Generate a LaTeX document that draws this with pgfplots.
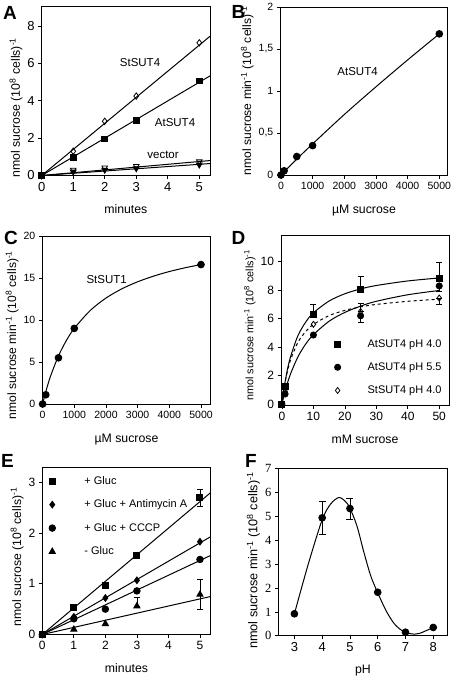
\documentclass[border=0pt]{standalone}
\usepackage{pgfplots}
\pgfplotsset{compat=1.18}
\usepackage{fontspec}
\setmainfont{Liberation Sans}
\newfontfamily\timesf{Liberation Serif}
\newcommand{\fs}[1]{\fontsize{#1}{#1}\selectfont}
\pgfplotsset{
 panel/.style={
  scale only axis, clip=false, anchor=south west,
  axis line style={line width=0.8pt},
  tick align=outside, xtick pos=left, ytick pos=left,
  major tick length=3.5pt,
  every tick/.style={black, line width=0.7pt},
  ticklabel style={font=\fs{12}},
  /pgf/number format/assume math mode=true,
  scaled ticks=false,
  xlabel style={font=\fs{12.3}, at={(axis description cs:0.5,0)}, anchor=base, yshift=-38pt},
  every axis plot/.append style={line width=1pt, black},
 },
 yl/.style 2 args={ylabel style={font=\fs{#2}, at={(ticklabel cs:#1)}, anchor=near ticklabel, inner sep=1.5pt}},
}
\tikzset{lbl/.style={font=\fs{11.5}}}
\newcommand{\ylab}{nmol sucrose (10\textsuperscript{8} cells)\textsuperscript{-1}}
\newcommand{\ylabm}{nmol sucrose min\textsuperscript{-1} (10\textsuperscript{8} cells)\textsuperscript{-1}}
\begin{document}
\begin{tikzpicture}
\useasboundingbox (0,0) rectangle (452pt,-678pt);
% ---------------- A
\begin{axis}[panel, at={(41.7pt,-175.5pt)}, width=168.3pt, height=169.5pt,
  xmin=0, xmax=5.34, ymin=0, ymax=9.07, xtick={0,...,5}, ytick={0,2,4,6,8},
  ticklabel style={font=\fs{13}},
  xlabel={minutes}, ylabel={\ylab}, yl={0.40}{12.3}]
\addplot[no marks] coordinates {(0,0) (5.34,7.45)};
\addplot[no marks] coordinates {(0,0) (5.34,5.33)};
\addplot[no marks] coordinates {(0,0) (5.34,0.80)};
\addplot[no marks] coordinates {(0,0) (5.34,0.64)};
\addplot[only marks, mark=diamond, mark size=3.2pt, mark options={fill=white, line width=0.8pt}] coordinates {(0,0) (1,1.3) (2,2.9) (3,4.25) (5,7.1)};
\addplot[only marks, mark=square*, mark size=2.8pt] coordinates {(0,0) (1,0.95) (2,1.95) (3,2.95) (5,5.05)};
\addplot[only marks, mark=triangle, mark size=3.2pt, mark options={rotate=180, fill=white, line width=0.8pt}] coordinates {(0,0) (1,0.3) (2,0.42) (3,0.5) (5,0.75)};
\addplot[only marks, mark=triangle*, mark size=3.2pt, mark options={rotate=180}] coordinates {(0,0) (1,0.2) (2,0.3) (3,0.38) (5,0.58)};
\node[lbl] at (axis cs:3.12,6.07) {StSUT4};
\node[lbl] at (axis cs:4.23,2.86) {AtSUT4};
\node[lbl] at (axis cs:3.85,1.1) {vector};
\end{axis}
% ---------------- B
\begin{axis}[panel, at={(280.3pt,-175pt)}, width=167.4pt, height=168pt,
  xmin=-20, xmax=5265, ymin=0, ymax=2, xtick={0,1000,...,5000}, xticklabels={0,1000,2000,3000,4000,5000},
  ytick={0,0.5,1,1.5,2}, yticklabels={0,{0,5},1,{1,5},2},
  ticklabel style={font=\fs{10.5}},
  xlabel={µM sucrose}, ylabel={\ylabm}, yl={0.5}{12.1}]
\addplot[no marks, smooth] coordinates {(0,0) (500,0.19) (1000,0.37) (2000,0.72) (3000,1.05) (4000,1.37) (5000,1.68)};
\addplot[only marks, mark=*, mark size=3.3pt] coordinates {(0,0) (100,0.05) (500,0.22) (1000,0.35) (5000,1.68)};
\node[lbl] at (axis cs:2420,1.23) {AtSUT4};
\end{axis}
% ---------------- C
\begin{axis}[panel, at={(42.3pt,-404pt)}, width=168.4pt, height=168pt,
  xmin=-10, xmax=5306, ymin=0, ymax=20, xtick={0,1000,...,5000}, xticklabels={0,1000,2000,3000,4000,5000},
  ytick={0,5,10,15,20},
  ticklabel style={font=\fs{10.5}},
  xlabel={µM sucrose}, ylabel={\ylabm}, yl={0.41}{12.1}]
\addplot[no marks, smooth] coordinates {(0,0) (100,1.46) (250,3.31) (500,5.72) (750,7.56) (1000,9.0) (1500,11.12) (2000,12.61) (2500,13.71) (3000,14.55) (3500,15.22) (4000,15.77) (4500,16.22) (5000,16.6)};
\addplot[only marks, mark=*, mark size=3.3pt] coordinates {(0,0) (100,1.1) (500,5.5) (1000,9.0) (5000,16.6)};
\node[lbl] at (axis cs:2022,14.8) {StSUT1};
\end{axis}
% ---------------- D
\begin{axis}[panel, at={(281pt,-405pt)}, width=168pt, height=169.3pt,
  xmin=-0.3, xmax=53.1, ymin=-0.07, ymax=11.83, xtick={0,10,...,50}, ytick={0,2,...,10},
  xlabel={mM sucrose}, ylabel={\ylabm}, yl={0.47}{10.8},
  legend style={draw=none, fill=none, at={(0.318,0.40)}, anchor=north west,
    font=\fs{11}, row sep=10pt, inner sep=0pt,
    /tikz/every odd column/.append style={column sep=25pt}},
  legend cell align=left]
\addplot[no marks, smooth, forget plot] coordinates {(0,0) (1,1.56) (2.5,3.14) (5,4.76) (7.5,5.74) (10,6.41) (15,7.24) (20,7.75) (25,8.09) (30,8.33) (40,8.65) (50,8.86)};
\addplot[no marks, smooth, forget plot] coordinates {(0,0) (1,0.9) (2.5,1.98) (5,3.28) (7.5,4.20) (10,4.87) (15,5.82) (20,6.44) (25,6.88) (30,7.22) (40,7.68) (50,7.98)};
\addplot[no marks, smooth, dashed, forget plot] coordinates {(0,0) (1,1.51) (2.5,2.94) (5,4.30) (7.5,5.08) (10,5.59) (15,6.22) (20,6.58) (25,6.83) (30,7.00) (40,7.22) (50,7.37)};
\addplot[only marks, mark=square*, mark size=3pt, error bars/.cd, y dir=plus, y explicit, error bar style={line width=0.8pt}, error mark options={rotate=90, mark size=3pt}] coordinates {(0,0) (1,1.2) (10,6.3) +- (0,0.7) (25,8.05) +- (0,0.95) (50,8.8) +- (0,1.2)};
\addlegendentry{AtSUT4 pH 4.0}
\addplot[only marks, mark=*, mark size=3pt, error bars/.cd, y dir=minus, y explicit, error bar style={line width=0.8pt}, error mark options={rotate=90, mark size=3pt}] coordinates {(0,0) (1,0.7) (10,4.85) (25,6.2) +- (0,0.45) (50,8.3) +- (0,0.4)};
\addlegendentry{AtSUT4 pH 5.5}
\addplot[only marks, mark=diamond, mark size=3pt, mark options={fill=white, line width=0.8pt}, error bars/.cd, y dir=both, y explicit, error bar style={line width=0.8pt}, error mark options={rotate=90, mark size=3pt}] coordinates {(0,0) (1,0.9) (10,5.6) (25,6.5) += (0,0.6) -= (0,0) (50,7.45) += (0,0) -= (0,0.45)};
\addlegendentry{StSUT4 pH 4.0}
\end{axis}
% ---------------- E
\begin{axis}[panel, at={(42.3pt,-634.5pt)}, width=168.4pt, height=166.8pt,
  xmin=0, xmax=5.34, ymin=0, ymax=3.29, xtick={0,...,5}, ytick={0,1,2,3},
  xlabel={minutes}, ylabel={\ylab}, yl={0.465}{12.2},
  legend style={draw=none, fill=none, at={(0.039,0.961)}, anchor=north west,
    font=\fs{11}, row sep=10pt, inner sep=0pt,
    /tikz/every odd column/.append style={column sep=27pt}},
  legend cell align=left]
\addplot[no marks, forget plot] coordinates {(0,0) (5.34,2.80)};
\addplot[no marks, forget plot] coordinates {(0,0) (5.34,1.93)};
\addplot[no marks, forget plot] coordinates {(0,0) (5.34,1.56)};
\addplot[no marks, forget plot] coordinates {(0,0) (5.34,0.75)};
\addplot[only marks, mark=square*, mark size=3pt, error bars/.cd, y dir=both, y explicit, error bar style={line width=0.8pt}, error mark options={rotate=90, mark size=3pt}] coordinates {(0,0) (1,0.53) (2,0.97) (3,1.55) (5,2.7) +- (0,0.17)};
\addlegendentry{+ Gluc}
\addplot[only marks, mark=diamond*, mark size=3.2pt] coordinates {(0,0) (1,0.35) (2,0.72) (3,1.07) (5,1.83)};
\addlegendentry{+ Gluc + Antimycin A}
\addplot[only marks, mark=*, mark size=3.2pt] coordinates {(0,0) (1,0.31) (2,0.5) (3,0.86) (5,1.48)};
\addlegendentry{+ Gluc + CCCP}
\addplot[only marks, mark=triangle*, mark size=3.4pt, error bars/.cd, y dir=both, y explicit, error bar style={line width=0.8pt}, error mark options={rotate=90, mark size=3pt}] coordinates {(0,0) (1,0.1) (2,0.21) (3,0.56) += (0,0.18) -= (0,0) (5,0.79) +- (0,0.3)};
\addlegendentry{- Gluc}
\end{axis}
% ---------------- F
\begin{axis}[panel, at={(278.3pt,-635.8pt)}, width=169.4pt, height=167.5pt,
  xmin=2.42, xmax=8.52, ymin=0, ymax=7, xtick={3,...,8}, ytick={0,...,7},
  xticklabel style={font=\fs{13}},
  yticklabel style={font=\timesf\fs{12.5}},
  xlabel={pH}, ylabel={\ylabm}, yl={0.45}{12.7}]
\addplot[no marks, smooth] coordinates {(3,0.92) (3.5,3.0) (4,4.85) (4.3,5.5) (4.6,5.78) (4.85,5.6) (5,5.33) (5.25,4.6) (5.5,3.5) (5.75,2.5) (6,1.8) (6.3,1.05) (6.6,0.5) (6.9,0.2) (7.2,0.08) (7.5,0.1) (8,0.35)};
\addplot[only marks, mark=*, mark size=3.3pt, error bars/.cd, y dir=both, y explicit, error bar style={line width=0.8pt}, error mark options={rotate=90, mark size=3.5pt}] coordinates {(3,0.92) (4,4.93) +- (0,0.68) (5,5.32) +- (0,0.43) (6,1.82) (7,0.15) (8,0.35)};
\end{axis}
% panel letters
\node[font=\fs{19}\bfseries] at (10pt,-13pt) {A};
\node[font=\fs{19}\bfseries] at (238.5pt,-12pt) {B};
\node[font=\fs{19}\bfseries] at (11pt,-237.5pt) {C};
\node[font=\fs{19}\bfseries] at (238.5pt,-237.5pt) {D};
\node[font=\fs{19}\bfseries] at (7.5pt,-461pt) {E};
\node[font=\fs{19}\bfseries] at (251pt,-461pt) {F};
\end{tikzpicture}
\end{document}
